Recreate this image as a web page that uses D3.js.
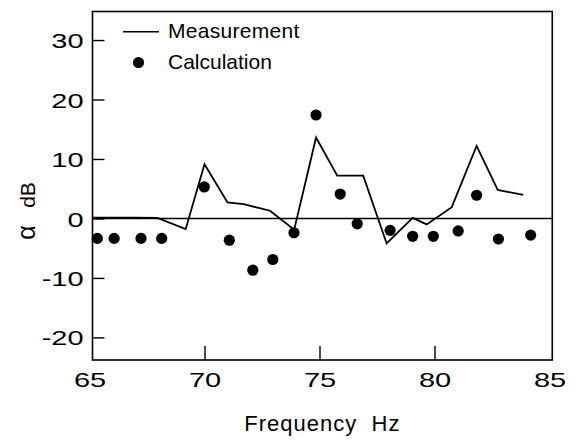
<!DOCTYPE html>
<html><head><meta charset="utf-8">
<script src="https://cdn.jsdelivr.net/npm/d3@7"></script>
<style>
html,body{margin:0;padding:0;background:#fff;}
svg text{font-family:"Liberation Sans",Arial,Helvetica,sans-serif;fill:#000;white-space:pre;}
</style></head>
<body>
<svg id="chart" width="581" height="445"></svg>
<script>
// Measurement (solid line)
const measFreq = [65.13, 66, 67, 67.95, 69.18, 70.0, 71.0, 71.7, 72.85, 73.9, 74.85, 75.77, 76.9, 77.92, 79.05, 79.66, 80.75, 81.83, 82.75, 83.86];
const measVal  = [0.15, 0.15, 0.15, 0.1, -1.8, 9.1, 2.7, 2.4, 1.3, -1.9, 13.6, 7.2, 7.2, -4.2, 0.1, -1.0, 1.9, 12.2, 4.8, 3.95];
// Calculation (dots)
const calcFreq = [65.34, 66.07, 67.24, 68.14, 69.99, 71.08, 72.1, 72.97, 73.89, 74.85, 75.9, 76.64, 78.07, 79.05, 79.95, 81.03, 81.83, 82.78, 84.18];
const calcVal  = [-3.35, -3.35, -3.35, -3.35, 5.3, -3.65, -8.7, -6.9, -2.4, 17.4, 4.1, -0.9, -2.0, -3.0, -3.0, -2.1, 3.9, -3.45, -2.8];
// Axis ticks
const xTicks = [65, 70, 75, 80, 85];
const yTicks = [-20, -10, 0, 10, 20, 30];
const xDomain = [65, 85];
const yDomain = [-23.8, 34.8];
const frameX = [65.13, 85.12];
const legendLabels = ["Measurement", "Calculation"];

const svg = d3.select("#chart");
const x = d3.scaleLinear().domain(xDomain).range([89.5, 549.5]);
const y = d3.scaleLinear().domain(yDomain).range([360, 11.5]);
const left = x(frameX[0]), right = x(frameX[1]);
const sx = 1.38; // horizontal widening of the tick digits

// frame
svg.append("rect")
  .attr("x", left).attr("y", y(yDomain[1]))
  .attr("width", right - left).attr("height", y(yDomain[0]) - y(yDomain[1]))
  .attr("fill", "none").attr("stroke", "#000").attr("stroke-width", 1.6);

// zero line
svg.append("line")
  .attr("x1", left).attr("x2", right).attr("y1", y(0)).attr("y2", y(0))
  .attr("stroke", "#000").attr("stroke-width", 1.5);

// y axis
const yAxis = svg.append("g").attr("transform", `translate(${left},0)`)
  .call(d3.axisLeft(y).tickValues(yTicks).tickSize(-12).tickPadding(9).tickFormat(d3.format("d")));
yAxis.select(".domain").remove();
yAxis.selectAll(".tick line").attr("stroke", "#000").attr("stroke-width", 1.4);
yAxis.selectAll(".tick text").style("font-size", "21px")
  .attr("x", -9 / sx).attr("dy", "0.36em")
  .attr("transform", `scale(${sx},1)`)
  .text(d => d < 0 ? "-" + Math.abs(d) : d);

// x axis
const xAxis = svg.append("g").attr("transform", `translate(0,${y(yDomain[0])})`)
  .call(d3.axisBottom(x).tickValues(xTicks).tickSize(-14).tickPadding(12).tickFormat(d3.format("d")));
xAxis.select(".domain").remove();
xAxis.selectAll(".tick line").attr("stroke", "#000").attr("stroke-width", 1.4)
  .attr("display", d => (d === xDomain[0] || d === xDomain[1]) ? "none" : null);
xAxis.selectAll(".tick text").style("font-size", "21px")
  .attr("transform", `scale(${sx},1)`);

// measurement line
svg.append("path")
  .datum(measFreq.map((f, i) => [f, measVal[i]]))
  .attr("fill", "none").attr("stroke", "#000").attr("stroke-width", 1.8)
  .attr("stroke-linejoin", "miter")
  .attr("d", d3.line().x(d => x(d[0])).y(d => y(d[1])));

// calculation dots
svg.append("g").selectAll("circle")
  .data(calcFreq.map((f, i) => [f, calcVal[i]]))
  .join("circle")
  .attr("cx", d => x(d[0])).attr("cy", d => y(d[1])).attr("r", 5.6)
  .attr("fill", "#000");

// legend
svg.append("line").attr("x1", 123).attr("x2", 159).attr("y1", 31.7).attr("y2", 31.7)
  .attr("stroke", "#000").attr("stroke-width", 1.6);
svg.append("text").attr("x", 168).attr("y", 38).style("font-size", "21px").style("letter-spacing", "0.3px").text(legendLabels[0]);
svg.append("circle").attr("cx", 138.5).attr("cy", 62.5).attr("r", 5.6).attr("fill", "#000");
svg.append("text").attr("x", 168).attr("y", 69).style("font-size", "21px").text(legendLabels[1]);

// axis titles
svg.append("text").attr("x", (left + right) / 2).attr("y", 431)
  .attr("text-anchor", "middle").style("font-size", "22px").style("letter-spacing", "1px")
  .text("Frequency  Hz");
const yt = svg.append("text").attr("transform", `translate(35,${211}) rotate(-90)`)
  .attr("text-anchor", "middle").style("font-size", "21px");
yt.append("tspan").style("font-size", "25px").text("α");
yt.append("tspan").text("   dB");
</script>
</body></html>
